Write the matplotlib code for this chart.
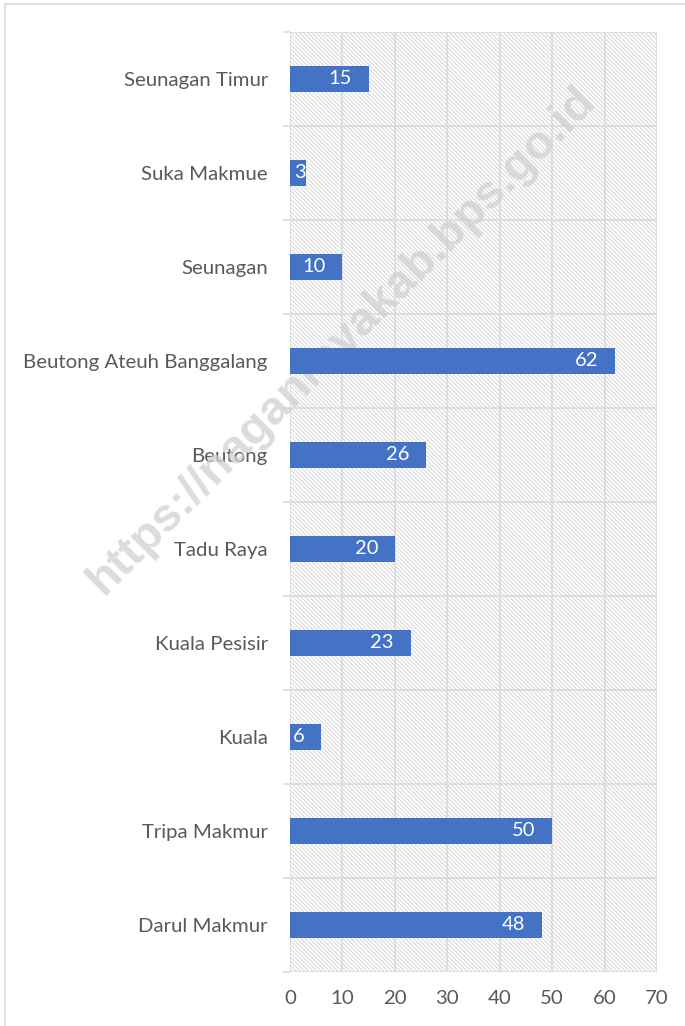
import matplotlib.pyplot as plt
from matplotlib.patches import Rectangle
import numpy as np

# data, bottom to top as drawn
kecamatan = ['Darul Makmur', 'Tripa Makmur', 'Kuala', 'Kuala Pesisir', 'Tadu Raya',
             'Beutong', 'Beutong Ateuh Banggalang', 'Seunagan', 'Suka Makmue', 'Seunagan Timur']
jumlah = [48, 50, 6, 23, 20, 26, 62, 10, 3, 15]
xticks = [0, 10, 20, 30, 40, 50, 60, 70]

plt.rcParams['font.family'] = ['Lato', 'DejaVu Sans']
plt.rcParams['hatch.color'] = '#d6d6d6'
plt.rcParams['hatch.linewidth'] = 0.7

gray = '#595959'
grid = '#d9d9d9'

fig = plt.figure(figsize=(6.85, 10.26), dpi=100)
ax = fig.add_axes([290/685, 54/1026, 367/685, 940/1026])

# hatched plot area
ax.patch.set_facecolor('white')
ax.patch.set_hatch('\\' * 8)
ax.patch.set_edgecolor('#d6d6d6')
ax.patch.set_linewidth(0)

pos = np.arange(len(kecamatan))
ax.barh(pos, jumlah, height=0.28, color='#4472C4', zorder=3)

for p, v in zip(pos, jumlah):
    off = -12 if v >= 5 else 0
    ax.annotate(str(v), (v, p), xytext=(off, 0), textcoords='offset points',
                ha='right', va='center', color='white', fontsize=14.5, zorder=4)

ax.set_xlim(0, 70)
ax.set_ylim(-0.5, len(kecamatan) - 0.5)
ax.set_xticks(xticks)
ax.set_yticks(pos)
ax.set_yticklabels(kecamatan)
ax.set_yticks(np.arange(-0.5, len(kecamatan), 1.0), minor=True)

ax.tick_params(axis='y', which='major', length=0, pad=16, labelsize=14.7, labelcolor=gray)
ax.tick_params(axis='y', which='minor', length=5, width=1.1, color=grid)
ax.tick_params(axis='x', which='major', length=0, pad=13, labelsize=14.7, labelcolor=gray)

ax.grid(axis='x', which='major', color=grid, linewidth=1.1, zorder=1)
ax.grid(axis='y', which='minor', color=grid, linewidth=1.1, zorder=1)
ax.set_axisbelow(True)
for s in ax.spines.values():
    s.set_visible(False)

# watermark, behind the bars
ax.text(0.500, 0.668, 'https://naganrayakab.bps.go.id', transform=fig.transFigure,
        rotation=45, ha='center', va='center', fontsize=34, fontweight='bold',
        family=['Liberation Sans', 'DejaVu Sans'], color='#d0d0d0', alpha=0.75,
        zorder=2, clip_on=False)

# chart area border
fig.patches.append(Rectangle((5/685, -0.01), 1.0, 1 - 4/1026 + 0.01, transform=fig.transFigure,
                             fill=False, edgecolor='#d9d9d9', linewidth=1.1))

fig.savefig('out.png', dpi=100)
